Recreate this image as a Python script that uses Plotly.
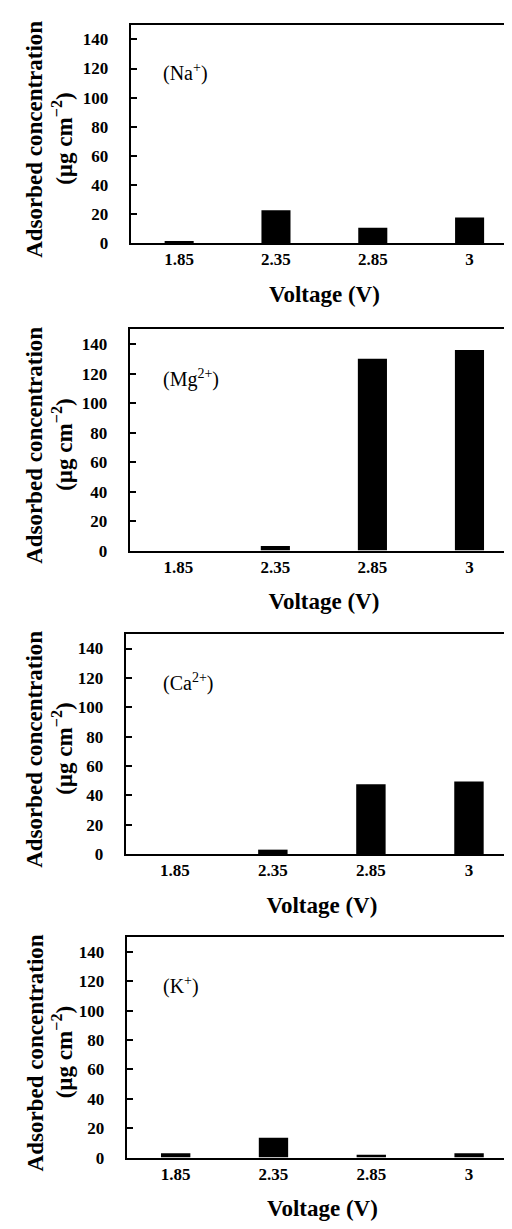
import plotly.graph_objects as go

categories = ["1.85", "2.35", "2.85", "3"]
na_values = [1.5, 22.5, 10.5, 17.5]
mg_values = [0, 3, 130, 136]
ca_values = [0, 3, 47.5, 49.5]
k_values = [3, 13.5, 2, 3]
ion_labels = ["(Na<sup>+</sup>)", "(Mg<sup>2+</sup>)", "(Ca<sup>2+</sup>)", "(K<sup>+</sup>)"]
y_ticks = [0, 20, 40, 60, 80, 100, 120, 140]

W, H = 512, 1229
# panel frames in pixels: (left, top, bottom)
frames = [(123, 17, 237), (122, 324, 547), (118, 631, 853), (119, 937, 1159)]
right_px = 511

series = [na_values, mg_values, ca_values, k_values]
FONT = "Liberation Serif"

fig = go.Figure()
layout = dict(
    width=W, height=H, margin=dict(l=0, r=0, t=0, b=0),
    paper_bgcolor="white", plot_bgcolor="white", showlegend=False,
    font=dict(family=FONT, color="black"),
)
annotations = []
for i, (vals, lab, (lpx, tpx, bpx)) in enumerate(zip(series, ion_labels, frames)):
    n = "" if i == 0 else str(i + 1)
    fig.add_trace(go.Bar(x=categories, y=vals, width=0.3, marker=dict(color="black", line=dict(width=0)),
                         xaxis="x" + n, yaxis="y" + n))
    layout["xaxis" + n] = dict(
        domain=[lpx / W, right_px / W], anchor="y" + n, type="category",
        showline=True, linecolor="black", linewidth=2, mirror=True,
        ticks="", showgrid=False, tickfont=dict(family=FONT, size=17, color="black", weight="bold"),
        ticklabelstandoff=0,
        title=dict(text="Voltage (V)", font=dict(family=FONT, size=23, color="black", weight="bold"), standoff=17),
    )
    layout["yaxis" + n] = dict(
        domain=[1 - bpx / H, 1 - tpx / H], anchor="x" + n, range=[0, 150],
        tickvals=y_ticks, showline=True, linecolor="black", linewidth=2, mirror=True,
        ticks="inside", ticklen=6, tickwidth=2, tickcolor="black", showgrid=False, zeroline=False,
        tickfont=dict(family=FONT, size=17, color="black", weight="bold"), ticklabelstandoff=17,
    )
    annotations.append(dict(
        text=lab, xref="x" + n + " domain", yref="y" + n, x=(153 - lpx) / (right_px - lpx), y=117,
        xanchor="left", yanchor="middle", showarrow=False, font=dict(family=FONT, size=20, color="black"),
    ))
    cy = 1 - ((tpx + bpx) / 2 + 5) / H
    annotations.append(dict(
        text="Adsorbed concentration", xref="paper", yref="paper",
        x=27 / W, y=cy, xanchor="center", yanchor="middle", textangle=-90,
        showarrow=False, font=dict(family=FONT, size=23, color="black", weight="bold"),
    ))
    annotations.append(dict(
        text="(µg cm<sup>−2</sup>)", xref="paper", yref="paper",
        x=55 / W, y=cy, xanchor="center", yanchor="middle", textangle=-90,
        showarrow=False, font=dict(family=FONT, size=23, color="black", weight="bold"),
    ))
layout["annotations"] = annotations
fig.update_layout(**layout)
fig.write_html("out.html")
